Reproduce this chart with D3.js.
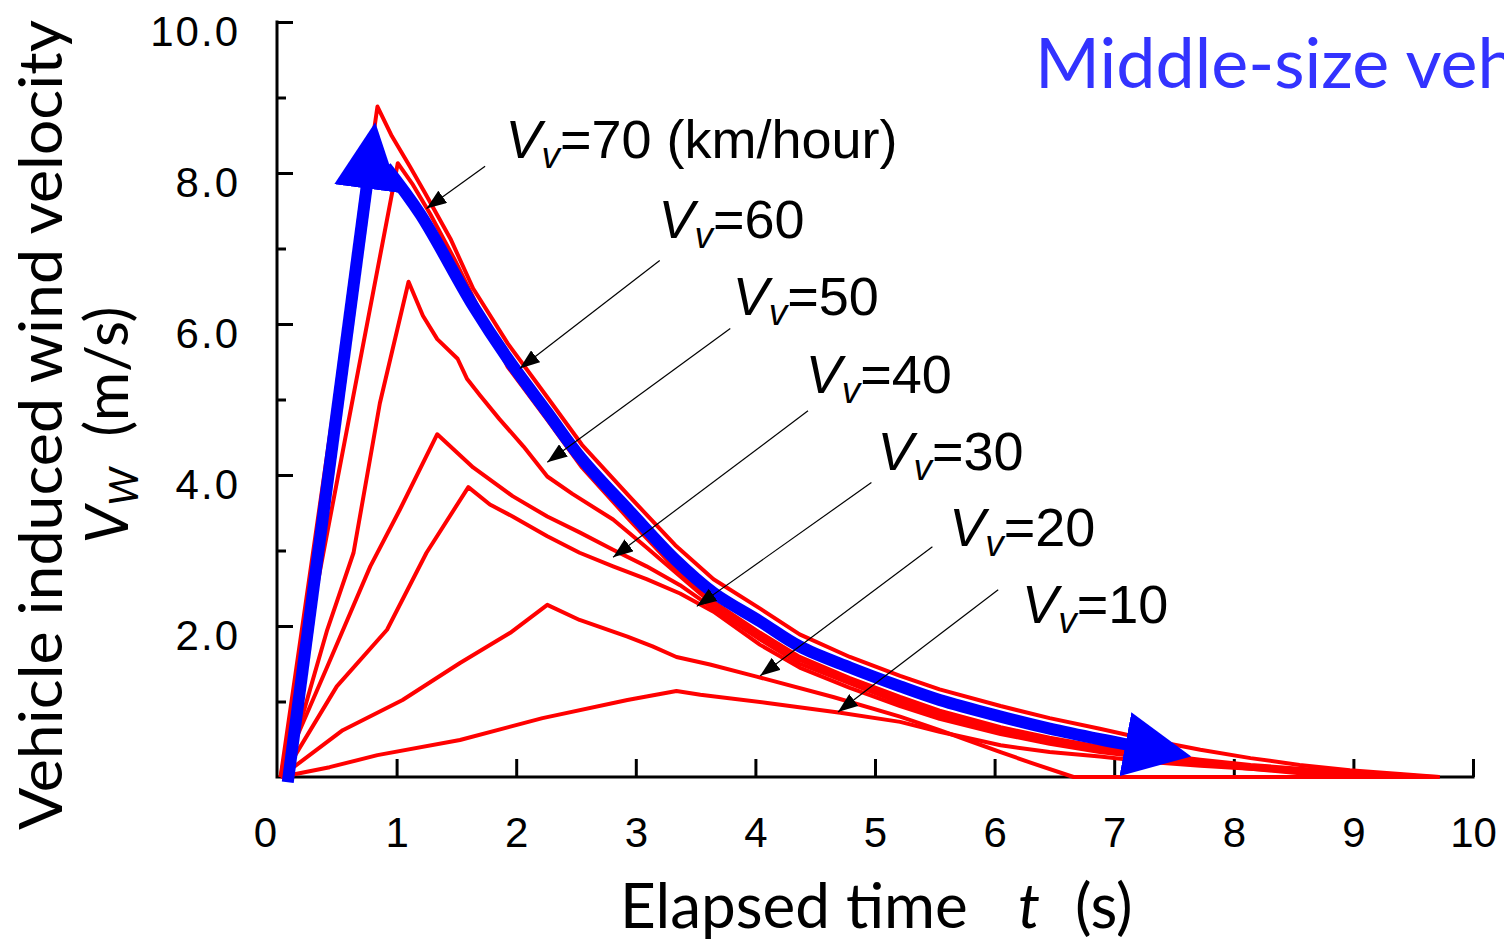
<!DOCTYPE html>
<html>
<head>
<meta charset="utf-8">
<script src="https://cdn.jsdelivr.net/npm/d3@7"></script>
<style>
  body { margin: 0; background: #fff; }
  svg { display: block; }
</style>
</head>
<body>
<svg id="chart" width="1504" height="940"></svg>
<script>
// ---- data: [elapsed time t (s), wind velocity Vw (m/s)] ----
const speeds = [70, 60, 50, 40, 30, 20, 10];
const xTickValues = [0, 1, 2, 3, 4, 5, 6, 7, 8, 9, 10];
const yTickValues = [1, 2, 3, 4, 5, 6, 7, 8, 9, 10];

const v70 = [[0.03,0],[0.84,8.88],[0.96,8.49],[1.11,8.09],[1.24,7.73],[1.45,7.13],[1.64,6.47],[1.93,5.74],
  [2.26,5.03],[2.55,4.40],[2.95,3.71],[3.33,3.07],[3.65,2.62],[4.04,2.23],[4.37,1.89],[4.79,1.59],[5.21,1.34],
  [5.54,1.16],[6.05,0.94],[6.46,0.78],[6.88,0.64],[7.30,0.49],[7.72,0.36],[8.14,0.25],[8.55,0.16],[8.97,0.09],
  [9.39,0.04],[9.72,0]];
const v60 = [[0.03,0],[1.01,8.13],[1.13,7.86],[1.28,7.46],[1.49,6.84],[1.70,6.16],[1.93,5.43],[2.26,4.73],
  [2.55,4.10],[2.95,3.40],[3.33,2.76],[3.65,2.32],[4.04,1.91],[4.37,1.59],[4.79,1.31],[5.21,1.06],[5.54,0.88],
  [6.05,0.66],[6.46,0.52],[6.88,0.40],[7.30,0.31],[7.72,0.23],[8.14,0.16],[8.55,0.11],[8.97,0.07],[9.39,0.03],
  [9.64,0]];
const v50 = [[0.03,0],[0.22,0.85],[0.42,1.95],[0.64,2.97],[0.86,4.95],[1.10,6.56],[1.22,6.11],[1.34,5.80],
  [1.51,5.54],[1.59,5.27],[1.70,5.05],[1.86,4.74],[2.06,4.38],[2.26,3.98],[2.47,3.75],[2.81,3.41],[3.09,3.04],
  [3.37,2.66],[3.65,2.28],[4.04,1.87],[4.37,1.55],[4.79,1.27],[5.21,1.02],[5.54,0.85],[6.05,0.64],[6.46,0.49],
  [6.88,0.37],[7.30,0.28],[7.72,0.20],[8.14,0.13],[8.55,0.08],[8.97,0.04],[9.39,0]];
const v40 = [[0.03,0],[0.13,0.40],[0.42,1.46],[0.78,2.79],[1.03,3.55],[1.34,4.54],[1.64,4.10],[1.97,3.72],
  [2.26,3.45],[2.53,3.24],[2.81,3.01],[3.09,2.79],[3.37,2.54],[3.65,2.23],[4.04,1.82],[4.37,1.50],[4.79,1.24],
  [5.21,0.98],[5.54,0.81],[6.05,0.61],[6.46,0.46],[6.88,0.35],[7.30,0.27],[7.72,0.19],[8.14,0.12],[8.55,0.07],
  [8.97,0.03],[9.22,0]];
const v30 = [[0.03,0],[0.13,0.23],[0.50,1.20],[0.92,1.95],[1.25,2.97],[1.60,3.84],[1.78,3.61],[1.97,3.45],
  [2.26,3.19],[2.53,2.97],[2.81,2.79],[3.09,2.62],[3.37,2.43],[3.65,2.19],[4.04,1.75],[4.37,1.45],[4.79,1.18],
  [5.21,0.94],[5.54,0.77],[6.05,0.57],[6.46,0.44],[6.88,0.33],[7.30,0.25],[7.72,0.17],[8.14,0.11],[8.55,0.05],
  [9.06,0]];
const v20 = [[0.03,0],[0.13,0.12],[0.55,0.62],[1.05,1.02],[1.53,1.51],[1.95,1.91],[2.26,2.28],[2.53,2.08],
  [2.93,1.86],[3.14,1.73],[3.34,1.59],[3.62,1.49],[4.01,1.33],[4.65,1.06],[5.21,0.80],[5.54,0.62],[5.77,0.49],
  [6.05,0.33],[6.30,0.19],[6.66,0],[9.72,0]];
const v10 = [[0.03,0],[0.44,0.13],[0.84,0.29],[1.53,0.49],[2.22,0.78],[2.93,1.02],[3.34,1.14],[3.54,1.09],
  [4.10,0.98],[4.71,0.85],[5.21,0.73],[5.54,0.60],[6.05,0.42],[6.46,0.33],[6.88,0.27],[7.30,0.20],[7.72,0.15],
  [8.14,0.11],[8.55,0.07],[8.97,0.04],[9.39,0.01],[9.72,0]];
const seriesList = [v70, v60, v50, v40, v30, v20, v10];

// blue trend arrows (rise, then decay envelope)
const blueRise = [[0.09,-0.07],[0.75,7.82]];
const blueDecay = [[0.91,8.08],[1.20,7.45],[1.64,6.24],[1.93,5.54],[2.26,4.83],[2.55,4.21],[2.95,3.52],
  [3.33,2.88],[3.65,2.44],[4.04,2.06],[4.37,1.73],[4.79,1.45],[5.21,1.20],[5.54,1.02],[6.05,0.80],[6.46,0.64],
  [6.88,0.50],[7.11,0.43]];

// callouts: label anchor and leader line, in data units
const calloutText = ["=70 (km/hour)", "=60", "=50", "=40", "=30", "=20", "=10"];
const calloutAt   = [[1.91,8.20],[3.19,7.14],[3.81,6.12],[4.42,5.09],[5.02,4.07],[5.62,3.06],[6.23,2.04]];
const leaderFrom  = [[1.74,8.09],[3.20,6.84],[3.79,5.94],[4.44,4.85],[4.97,3.90],[5.48,3.05],[6.03,2.48]];
const leaderTo    = [[1.25,7.53],[2.03,5.41],[2.26,4.17],[2.81,2.91],[3.51,2.26],[4.04,1.34],[4.69,0.86]];

// ---- drawing ----
const svg = d3.select("#chart");
const x = d3.scaleLinear().domain([0, 10]).range([277, 1473]);
const y = d3.scaleLinear().domain([0, 10]).range([777, 22]);
const line = d3.line().x(d => x(d[0])).y(d => y(d[1]));
const smooth = d3.line().x(d => x(d[0])).y(d => y(d[1])).curve(d3.curveCatmullRom.alpha(0.5));

const defs = svg.append("defs");
defs.append("marker").attr("id", "bigHead")
  .attr("markerUnits", "userSpaceOnUse").attr("viewBox", "0 0 67 65")
  .attr("markerWidth", 67).attr("markerHeight", 65)
  .attr("refX", 2).attr("refY", 32.5).attr("orient", "auto")
  .append("path").attr("d", "M0,0L67,32.5L0,65Z").attr("fill", "#0000ff");
defs.append("marker").attr("id", "smallHead")
  .attr("markerUnits", "userSpaceOnUse").attr("viewBox", "0 0 20 15")
  .attr("markerWidth", 20).attr("markerHeight", 15)
  .attr("refX", 20).attr("refY", 7.5).attr("orient", "auto")
  .append("path").attr("d", "M0,0L20,7.5L0,15Z").attr("fill", "#000");

// axes
const tickFont = "'Liberation Sans', Arial, sans-serif";
const yAxis = d3.axisLeft(y).tickValues(yTickValues).tickSize(-16).tickPadding(37)
  .tickFormat(d => d % 2 === 0 ? d.toFixed(1) : "");
const gy = svg.append("g").attr("transform", `translate(${x(0)},0)`).call(yAxis);
gy.select(".domain").remove();
gy.selectAll(".tick line").attr("stroke", "#000").attr("stroke-width", 3)
  .attr("x2", d => d % 2 === 0 ? 16 : 9);
gy.selectAll(".tick text").attr("font-family", tickFont).attr("font-size", 42)
  .attr("fill", "#000").attr("dy", "0.55em").attr("letter-spacing", 2);

const xAxis = d3.axisBottom(x).tickValues(xTickValues).tickSize(-18).tickPadding(40)
  .tickFormat(d3.format("d"));
const gx = svg.append("g").attr("transform", `translate(0,${y(0)})`).call(xAxis);
gx.select(".domain").remove();
gx.selectAll(".tick line").attr("stroke", "#000").attr("stroke-width", 3)
  .attr("opacity", d => d === 0 ? 0 : 1);
gx.selectAll(".tick text").attr("font-family", tickFont).attr("font-size", 42)
  .attr("fill", "#000").attr("dx", d => d === 0 ? -12 : 0);

svg.append("path")
  .attr("d", `M${x(0)},${y(10)}V${y(0)}H${x(10)}`)
  .attr("fill", "none").attr("stroke", "#000").attr("stroke-width", 3)
  .attr("stroke-linecap", "square");

// measured curves
svg.append("g").selectAll("path").data(seriesList).join("path")
  .attr("d", line).attr("fill", "none").attr("stroke", "#ff0000")
  .attr("stroke-width", 4).attr("stroke-linejoin", "round");

// blue arrows
svg.append("path").attr("d", line(blueRise)).attr("fill", "none")
  .attr("stroke", "#0000ff").attr("stroke-width", 12).attr("marker-end", "url(#bigHead)");
svg.append("path").attr("d", smooth(blueDecay)).attr("fill", "none")
  .attr("stroke", "#0000ff").attr("stroke-width", 12).attr("marker-end", "url(#bigHead)");

// callouts
svg.append("g").selectAll("line").data(leaderFrom).join("line")
  .attr("x1", d => x(d[0])).attr("y1", d => y(d[1]))
  .attr("x2", (d, i) => x(leaderTo[i][0])).attr("y2", (d, i) => y(leaderTo[i][1]))
  .attr("stroke", "#000").attr("stroke-width", 1.2).attr("marker-end", "url(#smallHead)");

const labels = svg.append("g").attr("font-family", tickFont).attr("font-size", 54).attr("fill", "#000")
  .selectAll("text").data(calloutText).join("text")
  .attr("x", (d, i) => x(calloutAt[i][0])).attr("y", (d, i) => y(calloutAt[i][1]));
labels.append("tspan").attr("font-style", "italic").text("V");
labels.append("tspan").attr("font-style", "italic").attr("font-size", 37).attr("dy", 10).text("v");
labels.append("tspan").attr("dy", -10).text(d => d);

// titles
const titleFont = "Lato, 'Open Sans', sans-serif";
svg.append("text").attr("transform", "translate(62,425) rotate(-90)")
  .attr("text-anchor", "middle").attr("font-family", titleFont).attr("font-size", 60)
  .attr("textLength", 810).attr("lengthAdjust", "spacingAndGlyphs")
  .text("Vehicle induced wind velocity");
const t2 = svg.append("text").attr("transform", "translate(128,425) rotate(-90)")
  .attr("text-anchor", "middle").attr("font-family", titleFont).attr("font-size", 60);
t2.append("tspan").attr("font-style", "italic").text("V");
t2.append("tspan").attr("font-style", "italic").attr("font-size", 40).attr("dy", 10).text("W");
t2.append("tspan").attr("dy", -10).attr("xml:space", "preserve").text("  (m/s)");

svg.append("text").attr("x", 620).attr("y", 928).attr("font-family", titleFont)
  .attr("font-size", 62).text("Elapsed time");
svg.append("text").attr("x", 1018).attr("y", 928).attr("font-family", titleFont)
  .attr("font-size", 62).attr("font-style", "italic").text("t");
svg.append("text").attr("x", 1075).attr("y", 928).attr("font-family", titleFont)
  .attr("font-size", 62).text("(s)");

svg.append("text").attr("x", 1035).attr("y", 88).attr("font-family", titleFont)
  .attr("font-size", 70).attr("fill", "#3333ff").text("Middle-size vehicle");
</script>
</body>
</html>
